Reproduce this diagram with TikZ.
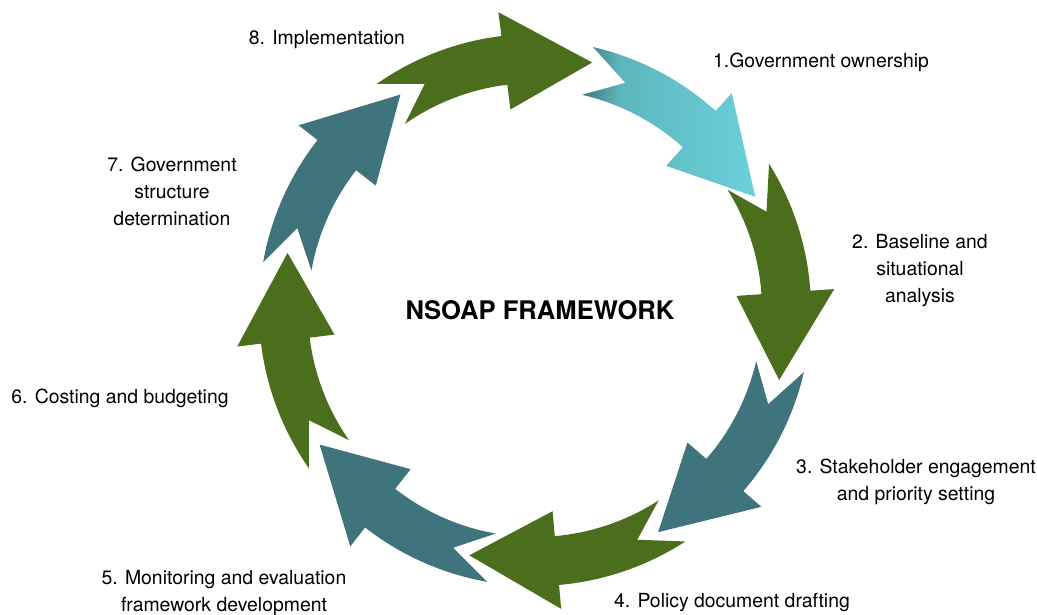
\documentclass[tikz,border=0pt]{standalone}
\usepackage{fontspec}
\setmainfont{TeX Gyre Heros}
\usepackage{xcolor}
\usepackage{tikz}
\usetikzlibrary{positioning,calc}
\definecolor{cyclegreen}{HTML}{4B6E1C}
\definecolor{cycleteal}{HTML}{3F747C}
\definecolor{cyclecyan}{HTML}{6AD0D8}
\pgfdeclarehorizontalshading{ownershipshade}{100bp}{color(0bp)=(cycleteal); color(25bp)=(cycleteal); color(36bp)=(cyclecyan!72!cycleteal); color(75bp)=(cyclecyan); color(100bp)=(cyclecyan)}

% one curved arrow of the cycle: #1 tail angle, #2 tip angle, #3 fill options
\newcommand{\cyclearrow}[3]{%
  \path[#3] (#1:276) arc[start angle=#1, end angle=#2+20, radius=276]
    -- (#2+20:300) -- (#2:254) -- (#2+20:202) -- (#2+20:227)
    arc[start angle=#2+20, end angle=#1, radius=227]
    -- (#1-9:251.5) -- cycle;}

\begin{document}
\begin{tikzpicture}[
    x=1pt, y=1pt,
    steplabel/.style={align=center, font=\fontsize{19.4}{27}\selectfont, inner sep=0pt},
    titlelabel/.style={font=\fontsize{25.6}{30}\selectfont\bfseries, inner sep=0pt},
    greenarrow/.style={fill=cyclegreen},
    tealarrow/.style={fill=cycleteal},
    ]
    \useasboundingbox (0,0) rectangle (1037,615);

    %Arrows
    \begin{scope}[shift={(535,305)}]
        \cyclearrow{32}{-16}{greenarrow}
        \cyclearrow{-13}{-61}{tealarrow}
        \cyclearrow{-57}{-105}{greenarrow}
        \cyclearrow{-100}{-148}{tealarrow}
        \cyclearrow{-145}{-193}{greenarrow}
        \cyclearrow{-190}{-238}{tealarrow}
        \cyclearrow{-235}{-283}{greenarrow}
    \end{scope}
    \begin{scope}[shift={(531,299)}]
        \cyclearrow{77}{28}{shading=ownershipshade}
    \end{scope}

    %Nodes
    \node[titlelabel] (title)       at (540,305) {NSOAP FRAMEWORK};
    \node[steplabel]  (ownership)   at (821,553) {1.Government ownership};
    \node[steplabel]  (baseline)    at (920,344) {2. Baseline and\\situational\\analysis};
    \node[steplabel]  (stakeholder) at (916,133) {3. Stakeholder engagement\\and priority setting};
    \node[steplabel]  (drafting)    at (732,12)  {4. Policy document drafting};
    \node[steplabel]  (monitoring)  at (224,22)  {5. Monitoring and evaluation\\framework development};
    \node[steplabel]  (costing)     at (120,217) {6. Costing and budgeting};
    \node[steplabel]  (structure)   at (172,424) {7. Government\\structure\\determination};
    \node[steplabel]  (implement)   at (327,575) {8. Implementation};
\end{tikzpicture}
\end{document}
